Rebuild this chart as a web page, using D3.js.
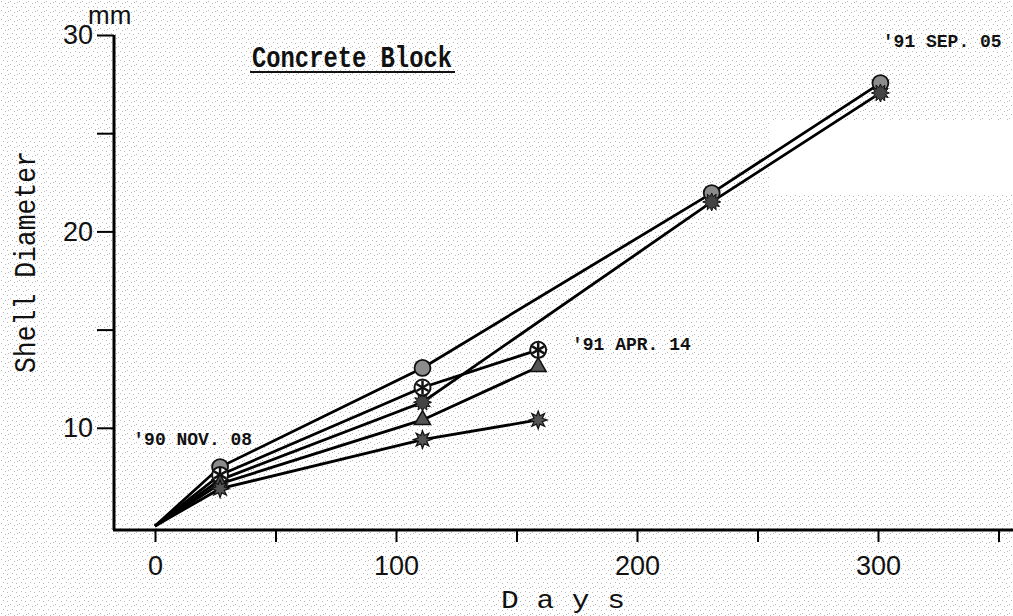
<!DOCTYPE html>
<html><head><meta charset="utf-8">
<script src="https://cdn.jsdelivr.net/npm/d3@7"></script>
<style>body{margin:0;background:#fff}svg{display:block}</style>
</head><body>
<svg id="c" width="1013" height="616"></svg>
<script>
// ---- data ----
const circleDays = [0, 27, 111, 231, 301];
const circleVals = [5, 8.0, 13.05, 21.95, 27.55];
const gearDays   = [0, 27, 111, 231, 301];
const gearVals   = [5, 7.35, 11.3, 21.5, 27.05];
const wheelDays  = [0, 27, 111, 159];
const wheelVals  = [5, 7.6, 12.05, 13.97];
const triDays    = [0, 27, 111, 159];
const triVals    = [5, 7.15, 10.4, 13.1];
const starDays   = [0, 27, 111, 159];
const starVals   = [5, 6.9, 9.4, 10.4];
const xTickVals  = [0, 50, 100, 150, 200, 250, 300, 350];
const xTickLabels = ["0", "", "100", "", "200", "", "300", ""];
const yTickVals  = [10, 15, 20, 25, 30];
const yTickLabels = ["10", "", "20", "", "30"];
const dateLabels = [
  {text: "'90 NOV. 08", day: -9, val: 9.1},
  {text: "'91 APR. 14", day: 173, val: 13.95},
  {text: "'91 SEP. 05", day: 302, val: 29.4}
];

const svg = d3.select("#c");
const x = d3.scaleLinear().domain([0, 350]).range([155, 998.5]);
const y = d3.scaleLinear().domain([5, 30]).range([526, 35]);

// light halftone background
const defs = svg.append("defs");
const pat = defs.append("pattern").attr("id","dots").attr("width",9).attr("height",9)
  .attr("patternUnits","userSpaceOnUse");
[[1,1],[5,3],[3,6],[7,7],[8,2]].forEach(p=>pat.append("rect").attr("x",p[0]).attr("y",p[1])
  .attr("width",1).attr("height",1).attr("fill","#b8b8b8"));
svg.append("rect").attr("width",1013).attr("height",616).attr("fill","url(#dots)");
svg.append("rect").attr("x",770).attr("y",120).attr("width",243).attr("height",75).attr("fill","#fff");

// axes
const ax = svg.append("g").attr("transform","translate(0,530)");
ax.call(d3.axisBottom(x).tickValues(xTickVals).tickSize(12).tickFormat((d,i)=>xTickLabels[i]));
ax.select(".domain").remove();
ax.selectAll(".tick line").attr("stroke","#000").attr("stroke-width",2);
ax.selectAll(".tick text").attr("font-family","Liberation Sans, Arial, sans-serif")
  .attr("font-size",27).attr("fill","#111").attr("dy","1.1em");
svg.append("line").attr("x1",113).attr("x2",1013).attr("y1",530).attr("y2",530)
  .attr("stroke","#000").attr("stroke-width",3);

const ay = svg.append("g").attr("transform","translate(114,0)");
ay.call(d3.axisLeft(y).tickValues(yTickVals).tickSize(17).tickFormat((d,i)=>yTickLabels[i]));
ay.select(".domain").remove();
ay.selectAll(".tick line").attr("stroke","#000").attr("stroke-width",2);
ay.selectAll(".tick text").attr("font-family","Liberation Sans, Arial, sans-serif")
  .attr("font-size",27).attr("fill","#111").attr("x",-21);
svg.append("line").attr("x1",114).attr("x2",114).attr("y1",y(30)).attr("y2",530)
  .attr("stroke","#000").attr("stroke-width",3);
svg.append("text").attr("x",88).attr("y",24).text("mm")
  .attr("font-family","Liberation Sans, Arial, sans-serif").attr("font-size",26).attr("fill","#111");

// texts
svg.append("text").attr("x",252).attr("y",67).text("Concrete Block")
  .attr("font-family","Liberation Mono, monospace").attr("font-size",30).attr("font-weight","bold")
  .attr("textLength",200).attr("lengthAdjust","spacingAndGlyphs").attr("fill","#111");
svg.append("line").attr("x1",250).attr("x2",455).attr("y1",72).attr("y2",72)
  .attr("stroke","#111").attr("stroke-width",2);
svg.append("text").attr("transform","translate(35,262) rotate(-90)").attr("text-anchor","middle")
  .text("Shell Diameter").attr("font-family","Liberation Mono, monospace").attr("font-size",30)
  .attr("textLength",222).attr("lengthAdjust","spacingAndGlyphs").attr("fill","#111");
svg.append("text").attr("x",563).attr("y",608).attr("text-anchor","middle").text("D a y s")
  .attr("font-family","Liberation Mono, monospace").attr("font-size",25)
  .attr("textLength",124).attr("lengthAdjust","spacingAndGlyphs").attr("fill","#111");
svg.selectAll("text.date").data(dateLabels).join("text").attr("class","date")
  .attr("x",d=>x(d.day)).attr("y",d=>y(d.val)).text(d=>d.text)
  .attr("font-family","Liberation Mono, monospace").attr("font-size",18).attr("font-weight","bold")
  .attr("fill","#111");

// series
const series = [
  {days: circleDays, vals: circleVals, mk: "circle"},
  {days: gearDays, vals: gearVals, mk: "gear"},
  {days: wheelDays, vals: wheelVals, mk: "wheel"},
  {days: triDays, vals: triVals, mk: "tri"},
  {days: starDays, vals: starVals, mk: "star"}
];
const line = d3.line().x(d=>x(d[0])).y(d=>y(d[1]));
series.forEach(s=>{
  const pts = s.days.map((d,i)=>[d, s.vals[i]]);
  svg.append("path").attr("d", line(pts)).attr("fill","none").attr("stroke","#000").attr("stroke-width",2.8);
});
function starPath(n, r1, r2){
  const p=[]; for(let i=0;i<2*n;i++){const r=i%2?r2:r1; const a=Math.PI*i/n - Math.PI/2; p.push([r*Math.cos(a), r*Math.sin(a)]);}
  return "M"+p.map(q=>q.join(",")).join("L")+"Z";
}
series.forEach(s=>{
  const pts = s.days.map((d,i)=>[d, s.vals[i]]).slice(1);
  const g = svg.append("g").selectAll("g").data(pts).join("g")
    .attr("transform", d=>`translate(${x(d[0])},${y(d[1])})`);
  if (s.mk==="circle") {
    g.append("circle").attr("r",8).attr("fill","#8c8c8c").attr("stroke","#111").attr("stroke-width",1.8);
  } else if (s.mk==="gear") {
    g.append("path").attr("d", starPath(12, 9, 5.5)).attr("fill","#444").attr("stroke","#111");
  } else if (s.mk==="wheel") {
    g.append("circle").attr("r",8).attr("fill","#fff").attr("stroke","#111").attr("stroke-width",2);
    [0,60,120].forEach(a=>g.append("line").attr("x1",-7).attr("x2",7)
      .attr("transform",`rotate(${a+30})`).attr("stroke","#111").attr("stroke-width",2.5));
  } else if (s.mk==="tri") {
    g.append("path").attr("d", d3.symbol(d3.symbolTriangle, 110)()).attr("fill","#555").attr("stroke","#111").attr("stroke-width",1.5);
  } else {
    g.append("path").attr("d", starPath(8, 9, 4.5)).attr("fill","#555").attr("stroke","#111").attr("stroke-width",1.2);
  }
});
</script>
</body></html>
